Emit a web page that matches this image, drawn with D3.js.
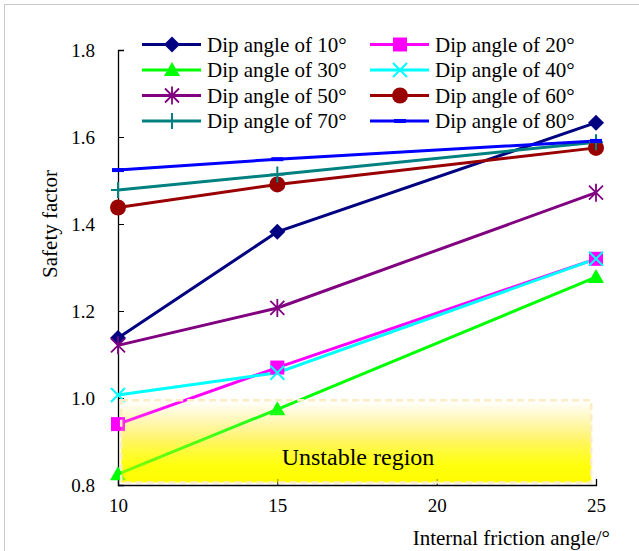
<!DOCTYPE html>
<html>
<head>
<meta charset="utf-8">
<script src="https://cdn.jsdelivr.net/npm/d3@7"></script>
<style>
  body { margin: 0; background: #fff; }
  svg text { font-family: "Liberation Serif", "Times New Roman", Times, serif; fill: #000; }
</style>
</head>
<body>
<div id="chart"></div>
<script>
// friction angles (x) and safety factors for each dip angle
const frictionAngles = [10, 15, 25];
const dip10 = [1.138, 1.382, 1.633];
const dip20 = [0.940, 1.070, 1.320];
const dip30 = [0.825, 0.974, 1.278];
const dip40 = [1.007, 1.058, 1.320];
const dip50 = [1.121, 1.207, 1.472];
const dip60 = [1.438, 1.491, 1.575];
const dip70 = [1.478, 1.514, 1.588];
const dip80 = [1.524, 1.549, 1.591];
const seriesNames = ["Dip angle of 10°", "Dip angle of 20°", "Dip angle of 30°", "Dip angle of 40°",
                     "Dip angle of 50°", "Dip angle of 60°", "Dip angle of 70°", "Dip angle of 80°"];
const xTicks = [10, 15, 20, 25];
const yTicks = [0.8, 1.0, 1.2, 1.4, 1.6, 1.8];
const unstableX = [10.1, 24.85];
const unstableY = [0.806, 0.995];

const seriesValues = [dip10, dip20, dip30, dip40, dip50, dip60, dip70, dip80];
const colors = ["#000080", "#ff00ff", "#00ff00", "#00ffff", "#800080", "#990000", "#008080", "#0000ff"];
const markers = ["diamond", "square", "triangle", "x", "star", "circle", "plus", "dash"];
const serif = '"Liberation Serif", "Times New Roman", Times, serif';

let width = 639,
    height = 551;
let svg = d3.select("div#chart").append("svg")
            .attr("width", width)
            .attr("height", height);

// light frame around the picture (only left/top show)
svg.append("rect")
  .attr("x", 4.5).attr("y", 4.5)
  .attr("width", 700).attr("height", 700)
  .style("fill", "none")
  .style("stroke", "#c8c8c8")
  .style("stroke-width", 1);

let x = d3.scaleLinear().domain([10, 25]).range([118, 596]);
let y = d3.scaleLinear().domain([0.8, 1.8]).range([485, 50]);

// gradient for the unstable region
let defs = svg.append("defs");
let grad = defs.append("linearGradient")
  .attr("id", "unstable-grad")
  .attr("x1", "0%").attr("y1", "0%")
  .attr("x2", "0%").attr("y2", "100%");
grad.append("stop").attr("offset", "0%").attr("stop-color", "#ffffff");
grad.append("stop").attr("offset", "45%").attr("stop-color", "#fff080");
grad.append("stop").attr("offset", "80%").attr("stop-color", "#ffff00");
grad.append("stop").attr("offset", "100%").attr("stop-color", "#fff700");

let grad2 = defs.append("linearGradient")
  .attr("id", "unstable-over")
  .attr("x1", "0%").attr("y1", "0%")
  .attr("x2", "0%").attr("y2", "100%");
grad2.append("stop").attr("offset", "0%").attr("stop-color", "#ffffff").attr("stop-opacity", 0);
grad2.append("stop").attr("offset", "50%").attr("stop-color", "#ffff40").attr("stop-opacity", 0.3);
grad2.append("stop").attr("offset", "100%").attr("stop-color", "#ffff00").attr("stop-opacity", 0.55);

let rx = x(unstableX[0]), rw = x(unstableX[1]) - x(unstableX[0]);
let ry = y(unstableY[1]), rh = y(unstableY[0]) - y(unstableY[1]);

svg.append("rect")
  .attr("x", rx).attr("y", ry)
  .attr("width", rw).attr("height", rh)
  .style("fill", "url(#unstable-grad)");

// axes
let yAxis = d3.axisLeft(y).tickValues(yTicks).tickSize(-6).tickPadding(23)
  .tickFormat(d3.format(".1f"));
let xAxis = d3.axisBottom(x).tickValues(xTicks).tickSize(-6).tickPadding(14)
  .tickFormat(d3.format("d"));

let gy = svg.append("g").attr("transform", "translate(118,0)").call(yAxis);
let gx = svg.append("g").attr("transform", "translate(0,485)").call(xAxis);
[gy, gx].forEach(g => {
  g.attr("font-family", null);
  g.select(".domain").style("stroke", "#000").style("stroke-width", 1.3);
  g.selectAll(".tick line").style("stroke", "#000").style("stroke-width", 1);
  g.selectAll(".tick text")
    .style("font-family", serif)
    .style("font-size", "19px")
    .style("fill", "#000");
});

svg.append("text")
  .attr("transform", "translate(57,224) rotate(-90)")
  .attr("text-anchor", "middle")
  .style("font-family", serif)
  .style("font-size", "21px")
  .text("Safety factor");

svg.append("text")
  .attr("x", 610)
  .attr("y", 545)
  .attr("text-anchor", "end")
  .style("font-family", serif)
  .style("font-size", "21px")
  .text("Internal friction angle/°");

// marker shapes
function drawMarker(g, type, cx, cy, color) {
  if (type === "diamond") {
    g.append("path").attr("d", `M${cx},${cy-8}L${cx+8},${cy}L${cx},${cy+8}L${cx-8},${cy}Z`)
      .style("fill", color);
  } else if (type === "square") {
    g.append("rect").attr("x", cx-7).attr("y", cy-7).attr("width", 14).attr("height", 14)
      .style("fill", color);
  } else if (type === "triangle") {
    g.append("path").attr("d", `M${cx},${cy-8}L${cx+8},${cy+6}L${cx-8},${cy+6}Z`)
      .style("fill", color);
  } else if (type === "x") {
    g.append("path").attr("d", `M${cx-7},${cy-7}L${cx+7},${cy+7}M${cx-7},${cy+7}L${cx+7},${cy-7}`)
      .style("stroke", color).style("stroke-width", 2);
  } else if (type === "star") {
    g.append("path").attr("d", `M${cx-7},${cy-7}L${cx+7},${cy+7}M${cx-7},${cy+7}L${cx+7},${cy-7}M${cx},${cy-9}L${cx},${cy+9}`)
      .style("stroke", color).style("stroke-width", 1.8);
  } else if (type === "circle") {
    g.append("circle").attr("cx", cx).attr("cy", cy).attr("r", 8)
      .style("fill", color);
  } else if (type === "plus") {
    g.append("path").attr("d", `M${cx-7},${cy}L${cx+7},${cy}M${cx},${cy-8}L${cx},${cy+8}`)
      .style("stroke", color).style("stroke-width", 2);
  } else if (type === "dash") {
    g.append("path").attr("d", `M${cx-6},${cy}L${cx+6},${cy}`)
      .style("stroke", color).style("stroke-width", 4);
  }
}

let line = d3.line()
  .x(function(d, i) { return x(frictionAngles[i]); })
  .y(function(d) { return y(d); });

let plot = svg.append("g");
seriesValues.forEach(function(vals, k) {
  plot.append("path")
    .datum(vals)
    .attr("d", line)
    .style("fill", "none")
    .style("stroke", colors[k])
    .style("stroke-width", 3);
});
seriesValues.forEach(function(vals, k) {
  vals.forEach(function(v, i) {
    drawMarker(plot, markers[k], x(frictionAngles[i]), y(v), colors[k]);
  });
});

// semi transparent wash over lines inside the region + dashed border
svg.append("rect")
  .attr("x", rx).attr("y", ry)
  .attr("width", rw).attr("height", rh)
  .style("fill", "url(#unstable-over)")
  .style("stroke", "#fcecc4")
  .style("stroke-width", 2.5)
  .style("stroke-dasharray", "7,4");

svg.append("text")
  .attr("x", 358)
  .attr("y", 465)
  .attr("text-anchor", "middle")
  .style("font-family", serif)
  .style("font-size", "24px")
  .text("Unstable region");

// legend
let legend = svg.append("g");
seriesNames.forEach(function(name, k) {
  let col = k % 2, row = Math.floor(k / 2);
  let lx = col === 0 ? 142 : 370;
  let ly = 44.5 + row * 25.5;
  legend.append("line")
    .attr("x1", lx).attr("x2", lx + 59)
    .attr("y1", ly).attr("y2", ly)
    .style("stroke", colors[k])
    .style("stroke-width", 3);
  drawMarker(legend, markers[k], lx + 30, ly, colors[k]);
  legend.append("text")
    .attr("x", lx + 65)
    .attr("y", ly + 7)
    .style("font-family", serif)
    .style("font-size", "21px")
    .text(name);
});
</script>
</body>
</html>
